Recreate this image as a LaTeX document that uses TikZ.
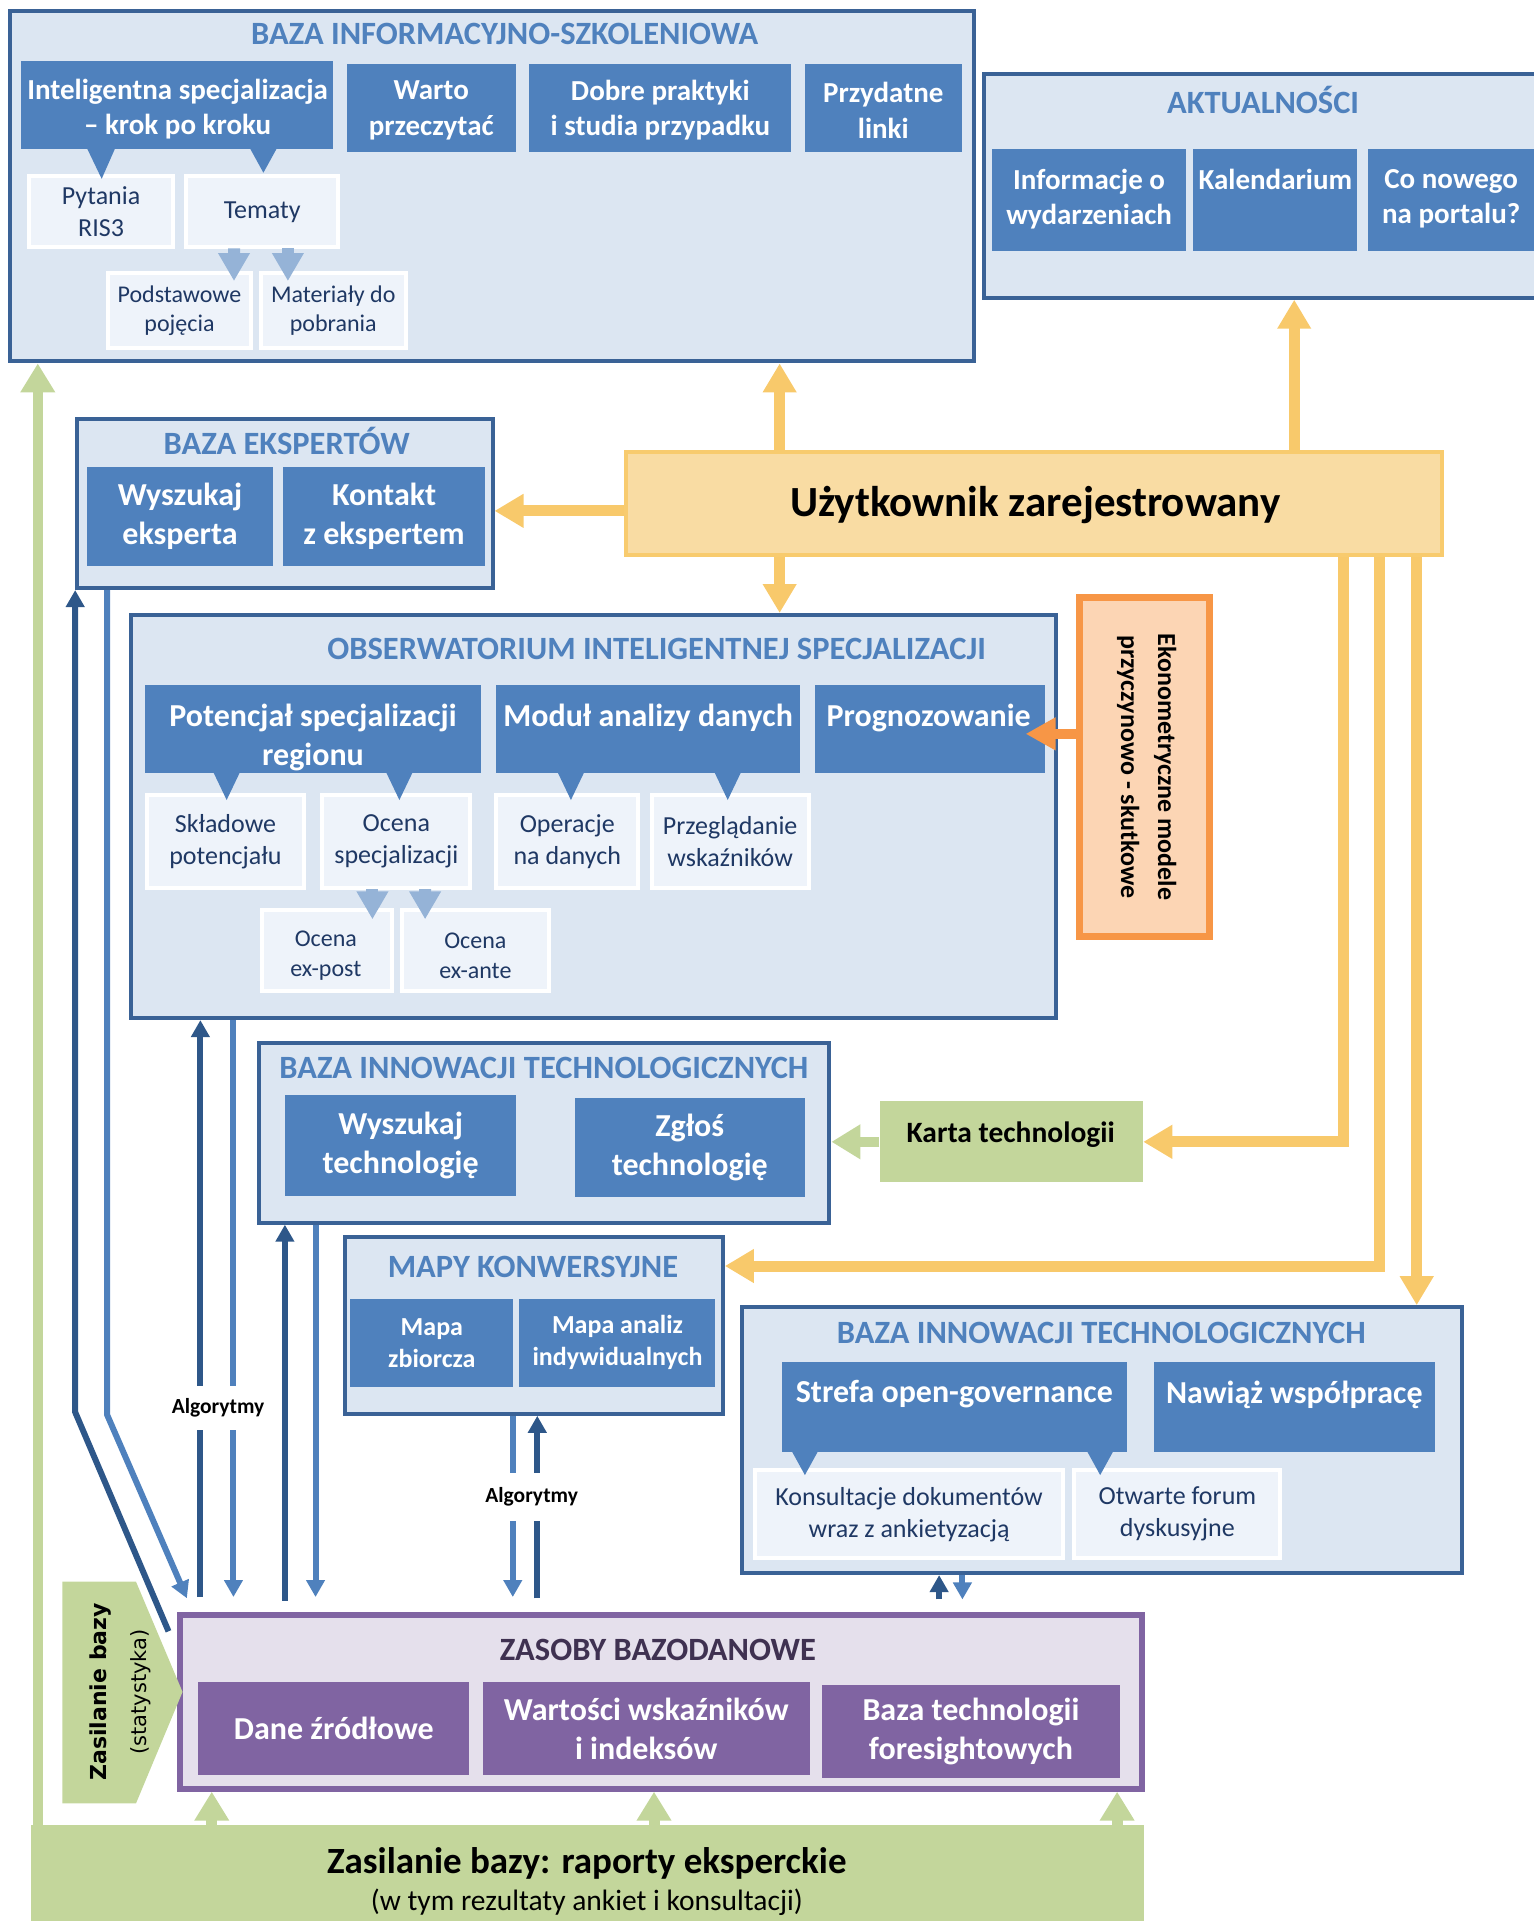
\documentclass[tikz,border=0pt]{standalone}
\usepackage{fontspec}
\setmainfont{Carlito}
\newfontfamily\dvsans{DejaVu Sans}
\usetikzlibrary{arrows.meta,calc}

\definecolor{contfill}{HTML}{DCE6F2}
\definecolor{contdraw}{HTML}{3A6296}
\definecolor{midblue}{HTML}{4F81BD}
\definecolor{lightfill}{HTML}{EEF3FA}
\definecolor{lighttext}{HTML}{1F3864}
\definecolor{lightarrow}{HTML}{95B3D7}
\definecolor{darkline}{HTML}{2E5789}
\definecolor{orangeline}{HTML}{F8C96B}
\definecolor{userfill}{HTML}{F9DCA3}
\definecolor{userdraw}{HTML}{F8CB6E}
\definecolor{greenfill}{HTML}{C3D69B}
\definecolor{zpurple}{HTML}{8064A2}
\definecolor{zasfill}{HTML}{E5E0EC}
\definecolor{zastitle}{HTML}{3F3151}
\definecolor{ekofill}{HTML}{FCD5B4}
\definecolor{ekodraw}{HTML}{F79646}

% box given by its corners: name, style, x1, y1, x2, y2, text
\newcommand\bx[7]{\node[#2, inner sep=0pt, minimum width={(#5-#3)*1.2252pt}, minimum height={(#6-#4)*1.2252pt}] (#1) at ({(#3+#5)/2},{(#4+#6)/2}) {#7};}

\tikzset{
  contbox/.style={fill=contfill, draw=contdraw, line width=4pt},
  titletext/.style={inner sep=0pt, text=midblue, font=\fontsize{32.5}{39}\selectfont\bfseries},
  midbox/.style={fill=midblue, text=white, align=center, font=\fontsize{29}{35.5}\selectfont\bfseries},
  midtext/.style={inner sep=0pt, text=white, align=center, font=\fontsize{29}{35.5}\selectfont\bfseries},
  litebox/.style={fill=lightfill, draw=white, line width=4pt, text=lighttext, align=center, font=\fontsize{26}{32}\selectfont},
  userbox/.style={fill=userfill, draw=userdraw, line width=4pt},
  greenbox/.style={fill=greenfill},
  zasbox/.style={fill=zasfill, draw=zpurple, line width=6pt},
  purpbox/.style={fill=zpurple, text=white, align=center, font=\fontsize{32}{39}\selectfont\bfseries},
  ekobox/.style={fill=ekofill, draw=ekodraw, line width=7pt},
  algtext/.style={fill=white, inner xsep=2pt, inner ysep=0pt, minimum height=44pt, font=\fontsize{21.5}{25}\selectfont\bfseries},
  orarr/.style={draw=orangeline, line width=11pt, -{Triangle[width=32pt,length=29pt]}},
  garr/.style={draw=greenfill, line width=11pt, -{Triangle[width=33pt,length=29pt]}},
  eoarr/.style={draw=ekodraw, line width=10pt, -{Triangle[width=31pt,length=30pt]}},
  darr/.style={draw=darkline, line width=6pt, -{Triangle[width=18pt,length=17pt]}},
  marr/.style={draw=midblue, line width=6pt, -{Triangle[width=18pt,length=17pt]}},
  larr/.style={draw=lightarrow, line width=12pt, -{Triangle[width=30pt,length=28pt]}},
}

\begin{document}
\begin{tikzpicture}[x=1.2252pt, y=-1.2252pt]
\useasboundingbox (0,0) rectangle (1252,1568);
\clip (0,0) rectangle (1252,1568);

% ---------- BAZA INFORMACYJNO-SZKOLENIOWA ----------
\bx{bis}{contbox}{8}{9}{795}{295}{}
\node[titletext] (bis-t) at (412,28) {BAZA INFORMACYJNO-SZKOLENIOWA};
\bx{isk}{midbox}{17}{50}{272}{122}{}
\node[midtext] (isk-t) at (145,89) {Inteligentna specjalizacja\\– krok po kroku};
\bx{wp}{midbox}{283}{52}{421}{124}{}
\node[midtext] (wp-t) at (352,90) {Warto\\przeczytać};
\bx{dp}{midbox}{432}{52}{646}{124}{}
\node[midtext] (dp-t) at (539,90) {Dobre praktyki\\i studia przypadku};
\bx{pl}{midbox}{657}{52}{785}{124}{}
\node[midtext] (pl-t) at (721,90) {Przydatne\\linki};
\bx{pyt}{litebox}{24}{144}{141}{202}{Pytania\\RIS3}
\bx{tem}{litebox}{152}{144}{276}{202}{Tematy}
\bx{pod}{litebox,font=\fontsize{24}{29.5}\selectfont}{88}{223}{205}{284}{Podstawowe\\pojęcia}
\bx{mat}{litebox,font=\fontsize{24}{29.5}\selectfont}{213}{223}{331}{284}{Materiały do\\pobrania}
\fill[midblue] (71,121) -- (94,121) -- (83,146) -- cycle;
\fill[midblue] (204,121) -- (226,121) -- (215,141) -- cycle;
\draw[larr] ($(tem.south)+(-23,-1)$) -- ($(pod.north)+(44.5,8)$);
\draw[larr] ($(tem.south)+(21,-1)$) -- ($(mat.north)+(-37,8)$);

% ---------- AKTUALNOŚCI ----------
\bx{akt}{contbox}{803}{60}{1262}{243}{}
\node[titletext] (akt-t) at (1031,82) {AKTUALNOŚCI};
\bx{inf}{midbox}{810}{122}{968}{205}{}
\bx{kal}{midbox}{974}{122}{1108}{205}{}
\bx{con}{midbox}{1117}{122}{1262}{205}{}
\node[midtext, anchor=north] (inf-t) at ($(inf.north)+(0,16)$) {Informacje o\\wydarzeniach};
\node[midtext, anchor=north] (kal-t) at ($(kal.north)+(0,16)$) {Kalendarium};
\node[midtext, anchor=north] (con-t) at ($(con.north)+(-5,16)$) {Co nowego\\na portalu?};

% ---------- Użytkownik zarejestrowany ----------
\bx{usr}{userbox}{511}{369}{1177}{453}{}
\node[inner sep=0pt, font=\fontsize{43}{50}\selectfont\bfseries] (usr-t) at (845,412) {Użytkownik zarejestrowany};

% ---------- BAZA EKSPERTÓW ----------
\bx{eks}{contbox}{63}{342}{402}{480}{}
\node[titletext] (eks-t) at (234,360) {BAZA EKSPERTÓW};
\bx{ws}{midbox,font=\fontsize{32}{39}\selectfont\bfseries}{71}{381}{223}{462}{Wyszukaj\\eksperta}
\bx{ke}{midbox,font=\fontsize{32}{39}\selectfont\bfseries}{231}{381}{396}{462}{Kontakt\\z ekspertem}

% ---------- OBSERWATORIUM ----------
\bx{obs}{contbox}{107}{502}{862}{831}{}
\node[titletext] (obs-t) at (536,530) {OBSERWATORIUM INTELIGENTNEJ SPECJALIZACJI};
\bx{pot}{midbox}{118}{559}{393}{631}{}
\bx{mad}{midbox}{405}{559}{653}{631}{}
\bx{pro}{midbox}{665}{559}{853}{631}{}
\node[midtext, font=\fontsize{32}{39}\selectfont\bfseries, anchor=north] (pot-t) at ($(pot.north)+(0,16)$) {Potencjał specjalizacji\\regionu};
\node[midtext, font=\fontsize{32}{39}\selectfont\bfseries, anchor=north] (mad-t) at ($(mad.north)+(0,16)$) {Moduł analizy danych};
\node[midtext, font=\fontsize{32}{39}\selectfont\bfseries, anchor=north] (pro-t) at ($(pro.north)+(-1,16)$) {Prognozowanie};
\bx{skl}{litebox}{120}{649}{248}{725}{Składowe\\potencjału}
\bx{osp}{litebox}{263}{649}{384}{725}{Ocena\\specjalizacji}
\bx{ond}{litebox}{405}{649}{521}{725}{Operacje\\na danych}
\bx{prz}{litebox}{532}{649}{660}{725}{Przeglądanie\\wskaźników}
\bx{oep}{litebox,font=\fontsize{24}{29.5}\selectfont}{214}{743}{320}{809}{}
\node[inner sep=0pt, align=center, text=lighttext, font=\fontsize{24}{29.5}\selectfont] (oep-t) at (266,780) {Ocena\\ex-post};
\bx{oea}{litebox,font=\fontsize{24}{29.5}\selectfont}{328}{743}{448}{809}{}
\node[inner sep=0pt, align=center, text=lighttext, font=\fontsize{24}{29.5}\selectfont] (oea-t) at (388,780) {Ocena\\ex-ante};
\foreach \tx in {185,326,466,594}
  \fill[midblue] (\tx-11,630) -- (\tx+11,630) -- (\tx,653) -- cycle;
\draw[larr] ($(osp.south)+(-19.5,-1)$) -- ($(oep.north)+(37,9)$);
\draw[larr] ($(osp.south)+(23.5,-1)$) -- ($(oea.north)+(-41,9)$);

% ---------- Ekonometryczne modele ----------
\bx{eko}{ekobox}{881}{488}{987}{764}{}
\node[rotate=-90, align=center, inner sep=0pt, font=\fontsize{26}{37}\selectfont\bfseries] (eko-t) at (936,626) {Ekonometryczne modele\\przyczynowo - skutkowe};

% ---------- BAZA INNOWACJI TECHNOLOGICZNYCH (1) ----------
\bx{bi1}{contbox}{211}{851}{677}{998}{}
\node[titletext] (bi1-t) at (444,872) {BAZA INNOWACJI TECHNOLOGICZNYCH};
\bx{wt}{midbox,font=\fontsize{32}{39}\selectfont\bfseries}{233}{894}{421}{976}{Wyszukaj\\technologię}
\bx{zt}{midbox,font=\fontsize{32}{39}\selectfont\bfseries}{469}{896}{657}{977}{Zgłoś\\technologię}

\bx{kt}{greenbox}{718}{899}{933}{965}{}
\node[inner sep=0pt, font=\fontsize{29.5}{35}\selectfont\bfseries] (kt-t) at (825,926) {Karta technologii};

% ---------- MAPY KONWERSYJNE ----------
\bx{map}{contbox}{282}{1010}{590}{1154}{}
\node[titletext] (map-t) at (435,1034) {MAPY KONWERSYJNE};
\bx{mz}{midbox,font=\fontsize{26}{32}\selectfont\bfseries}{286}{1060}{419}{1132}{Mapa\\zbiorcza}
\bx{mai}{midbox,font=\fontsize{26}{32}\selectfont\bfseries}{424}{1060}{584}{1132}{Mapa analiz\\indywidualnych}

% ---------- BAZA INNOWACJI TECHNOLOGICZNYCH (2) ----------
\bx{bi2}{contbox}{606}{1067}{1193}{1284}{}
\node[titletext] (bi2-t) at (899,1088) {BAZA INNOWACJI TECHNOLOGICZNYCH};
\bx{sog}{midbox}{638}{1112}{920}{1185}{}
\bx{nw}{midbox}{942}{1112}{1171}{1185}{}
\node[midtext, font=\fontsize{32}{39}\selectfont\bfseries, anchor=north] (sog-t) at ($(sog.north)+(0,15)$) {Strefa open-governance};
\node[midtext, font=\fontsize{32}{39}\selectfont\bfseries, anchor=north] (nw-t) at ($(nw.north)+(0,15)$) {Nawiąż współpracę};
\bx{kd}{litebox}{616}{1200}{868}{1272}{Konsultacje dokumentów\\wraz z ankietyzacją}
\bx{ofd}{litebox}{877}{1200}{1045}{1272}{Otwarte forum\\dyskusyjne}
\fill[midblue] (646,1184) -- (668,1184) -- (657,1204) -- cycle;
\fill[midblue] (887,1184) -- (909,1184) -- (898,1204) -- cycle;

% ---------- ZASOBY BAZODANOWE ----------
\bx{zas}{zasbox}{147}{1318}{932}{1460}{}
\node[titletext, text=zastitle] (zas-t) at (537,1347) {ZASOBY BAZODANOWE};
\bx{dz}{purpbox}{162}{1373}{383}{1449}{Dane źródłowe}
\bx{wwi}{purpbox}{394}{1373}{661}{1449}{Wartości wskaźników\\i indeksów}
\bx{btf}{purpbox}{671}{1375}{914}{1451}{Baza technologii\\foresightowych}

% ---------- Zasilanie bazy (statystyka) ----------
\fill[greenfill] (51,1291) -- (111,1291) -- (149,1381) -- (111,1472) -- (51,1472) -- cycle;
\node[rotate=90, inner sep=0pt, font=\fontsize{22}{26}\dvsans\bfseries] (zs-t1) at (82,1381) {Zasilanie bazy};
\node[rotate=90, inner sep=0pt, font=\fontsize{21}{26}\dvsans] (zs-t2) at (115,1381) {(statystyka)};

% ---------- Zasilanie bazy: raporty eksperckie ----------
\bx{zr}{greenbox}{25}{1490}{934}{1590}{}
\node[inner sep=0pt, font=\fontsize{37}{44}\selectfont\bfseries] (zr-t1) at (479,1521) {Zasilanie bazy: raporty eksperckie};
\node[inner sep=0pt, font=\fontsize{29.5}{35}\selectfont] (zr-t2) at (479,1553) {(w tym rezultaty ankiet i konsultacji)};

% ---------- connectors from the registered user ----------
\coordinate (u1) at ($(usr.north west)+(127,0)$);
\coordinate (u2) at ($(usr.south west)+(127,0)$);
\coordinate (u3) at ($(usr.north west)+(547,0)$);
\coordinate (u4) at ($(usr.west)+(0,6)$);
\coordinate (u5) at ($(usr.south west)+(587,0)$);
\coordinate (u6) at ($(usr.south west)+(617,0)$);
\coordinate (u6b) at ($(map.north east)+(0,25)$);
\coordinate (u7) at ($(usr.south west)+(647,0)$);
\draw[orarr] (u1) -- (u1 |- bis.south);
\draw[orarr] (u2) -- (u2 |- obs.north);
\draw[orarr] (u3) -- (u3 |- akt.south);
\draw[orarr] (u4) -- (u4 -| eks.east);
\draw[orarr] (u5) |- (kt.east);
\draw[orarr] (u6) |- (u6b);
\draw[orarr] (u7) -- (u7 |- bi2.north);

% model -> forecasting
\coordinate (e1) at ($(eko.west)+(0,-27)$);
\coordinate (e2) at (e1 -| pro.east);
\draw[eoarr] (e1) -- ($(e2)+(-16,0)$);

% technology card -> technology base
\draw[garr, line width=10pt] (kt.west) -- (kt.west -| bi1.east);

% ---------- green feeds ----------
\coordinate (g0) at ($(zr.north west)+(6,0)$);
\coordinate (g1) at ($(zr.north west)+(148,0)$);
\coordinate (g2) at ($(zr.north west)+(509,0)$);
\coordinate (g3) at ($(zr.north west)+(887,0)$);
\draw[garr, line width=10pt] (g0) -- (g0 |- bis.south);
\draw[garr] (g1) -- (g1 |- zas.south);
\draw[garr] (g2) -- (g2 |- zas.south);
\draw[garr] (g3) -- (g3 |- zas.south);

% ---------- database links ----------
\coordinate (l1) at ($(zas.north west)+(-7,16)$);
\draw[darr] (l1) -- ($(eks.south west)+(0,671)$) -- (eks.south west);
\draw[marr] ($(eks.south west)+(26,0)$) -- ($(eks.south west)+(26,673)$) -- ($(zas.north west)+(8,-11)$);

\coordinate (a1) at ($(zas.north west)+(19,-12)$);
\coordinate (a2) at ($(zas.north west)+(46,-12)$);
\coordinate (b1) at ($(zas.north west)+(88,-9)$);
\coordinate (b2) at ($(zas.north west)+(113,-12)$);
\coordinate (c1) at ($(zas.north west)+(274,-12)$);
\coordinate (c2) at ($(zas.north west)+(294,-11)$);
\coordinate (d1) at ($(zas.north west)+(622,-10)$);
\coordinate (d2) at ($(zas.north west)+(641,-10)$);
\draw[darr] (a1) -- (a1 |- obs.south);
\draw[marr] (a2 |- obs.south) -- (a2);
\draw[darr] (b1) -- (b1 |- bi1.south);
\draw[marr] (b2 |- bi1.south) -- (b2);
\draw[marr] (c1 |- map.south) -- (c1);
\draw[darr] (c2) -- (c2 |- map.south);
\draw[darr] (d1) -- (d1 |- bi2.south);
\draw[marr] (d2 |- bi2.south) -- (d2);

\node[algtext] (alg1) at (178,1149) {Algorytmy};
\node[algtext, minimum height=48pt] (alg2) at (434,1222) {Algorytmy};
\end{tikzpicture}
\end{document}
